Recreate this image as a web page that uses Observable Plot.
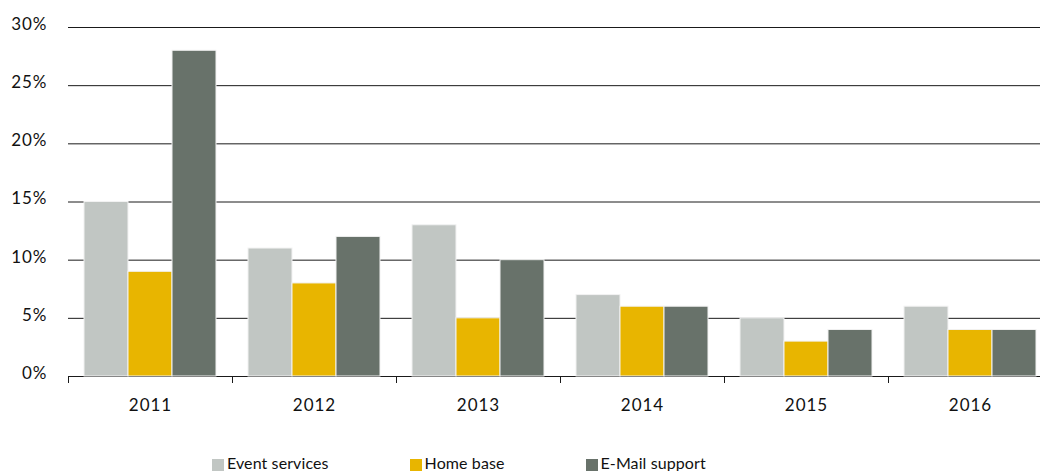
<!DOCTYPE html>
<html>
<head>
<meta charset="utf-8">
<script src="https://cdn.jsdelivr.net/npm/d3@7"></script>
<script src="https://cdn.jsdelivr.net/npm/@observablehq/plot@0.6"></script>
<style>
  html, body { margin: 0; padding: 0; background: #fff; overflow: hidden; }
  #chart svg { display: block; max-width: none !important; }
  #chart svg text { letter-spacing: 1px; }
  .legend { display: flex; padding-left: 212px; margin-top: 24px; font-family: Lato, sans-serif; font-size: 16px; color: #111; line-height: 17px; letter-spacing: 0.1px; }
  .legend .item { display: flex; align-items: flex-end; margin-right: 81px; }
  .legend .sw { width: 12px; height: 12px; margin-right: 3px; margin-bottom: 0px; }
</style>
</head>
<body>
<div id="chart"></div>
<div class="legend" id="legend"></div>
<script>
const years = ["2011", "2012", "2013", "2014", "2015", "2016"];
const series = ["Event services", "Home base", "E-Mail support"];
const colors = ["#c1c6c3", "#e8b500", "#68726a"];
const eventServices = [15, 11, 13, 7, 5, 6];
const homeBase = [9, 8, 5, 6, 3, 4];
const emailSupport = [28, 12, 10, 6, 4, 4];
const yTicks = [0, 5, 10, 15, 20, 25, 30];

const valuesBySeries = [eventServices, homeBase, emailSupport];
const rows = [];
years.forEach((year, i) => {
  series.forEach((s, j) => rows.push({year, series: s, value: valuesBySeries[j][i]}));
});

const H = 430, MT = 27, MB = 54;
const chart = Plot.plot({
  width: 1060,
  height: H,
  marginLeft: 68,
  marginRight: 8,
  marginTop: MT,
  marginBottom: MB,
  style: {fontFamily: "Lato, sans-serif", fontSize: "17px", color: "#111", background: "#fff"},
  fx: {domain: years, padding: 0, label: null, axis: null},
  x: {domain: series, paddingInner: 0, paddingOuter: 0.3636, axis: null},
  y: {domain: [0, 30], label: null, axis: null},
  color: {domain: series, range: colors},
  marks: [
    Plot.ruleY(yTicks, {stroke: "#1a1a1a", strokeWidth: 1}),
    Plot.frame({anchor: "left", insetTop: H - MT - MB, insetBottom: -6, stroke: "#1a1a1a"}),
    Plot.barY(rows, {fx: "year", x: "series", y: "value", fill: "series", stroke: "#f2f2f2", strokeWidth: 1}),
    Plot.axisY({ticks: yTicks, tickSize: 0, tickPadding: 21, tickFormat: d => d + "%", label: null, dy: -3}),
    Plot.axisFx({anchor: "bottom", tickSize: 0, tickPadding: 22, label: null})
  ]
});
chart.style.maxWidth = "none";
document.getElementById("chart").appendChild(chart);

const legend = document.getElementById("legend");
series.forEach((s, i) => {
  const item = document.createElement("div");
  item.className = "item";
  const sw = document.createElement("span");
  sw.className = "sw";
  sw.style.background = colors[i];
  const t = document.createElement("span");
  t.textContent = s;
  item.appendChild(sw);
  item.appendChild(t);
  legend.appendChild(item);
});
</script>
</body>
</html>
